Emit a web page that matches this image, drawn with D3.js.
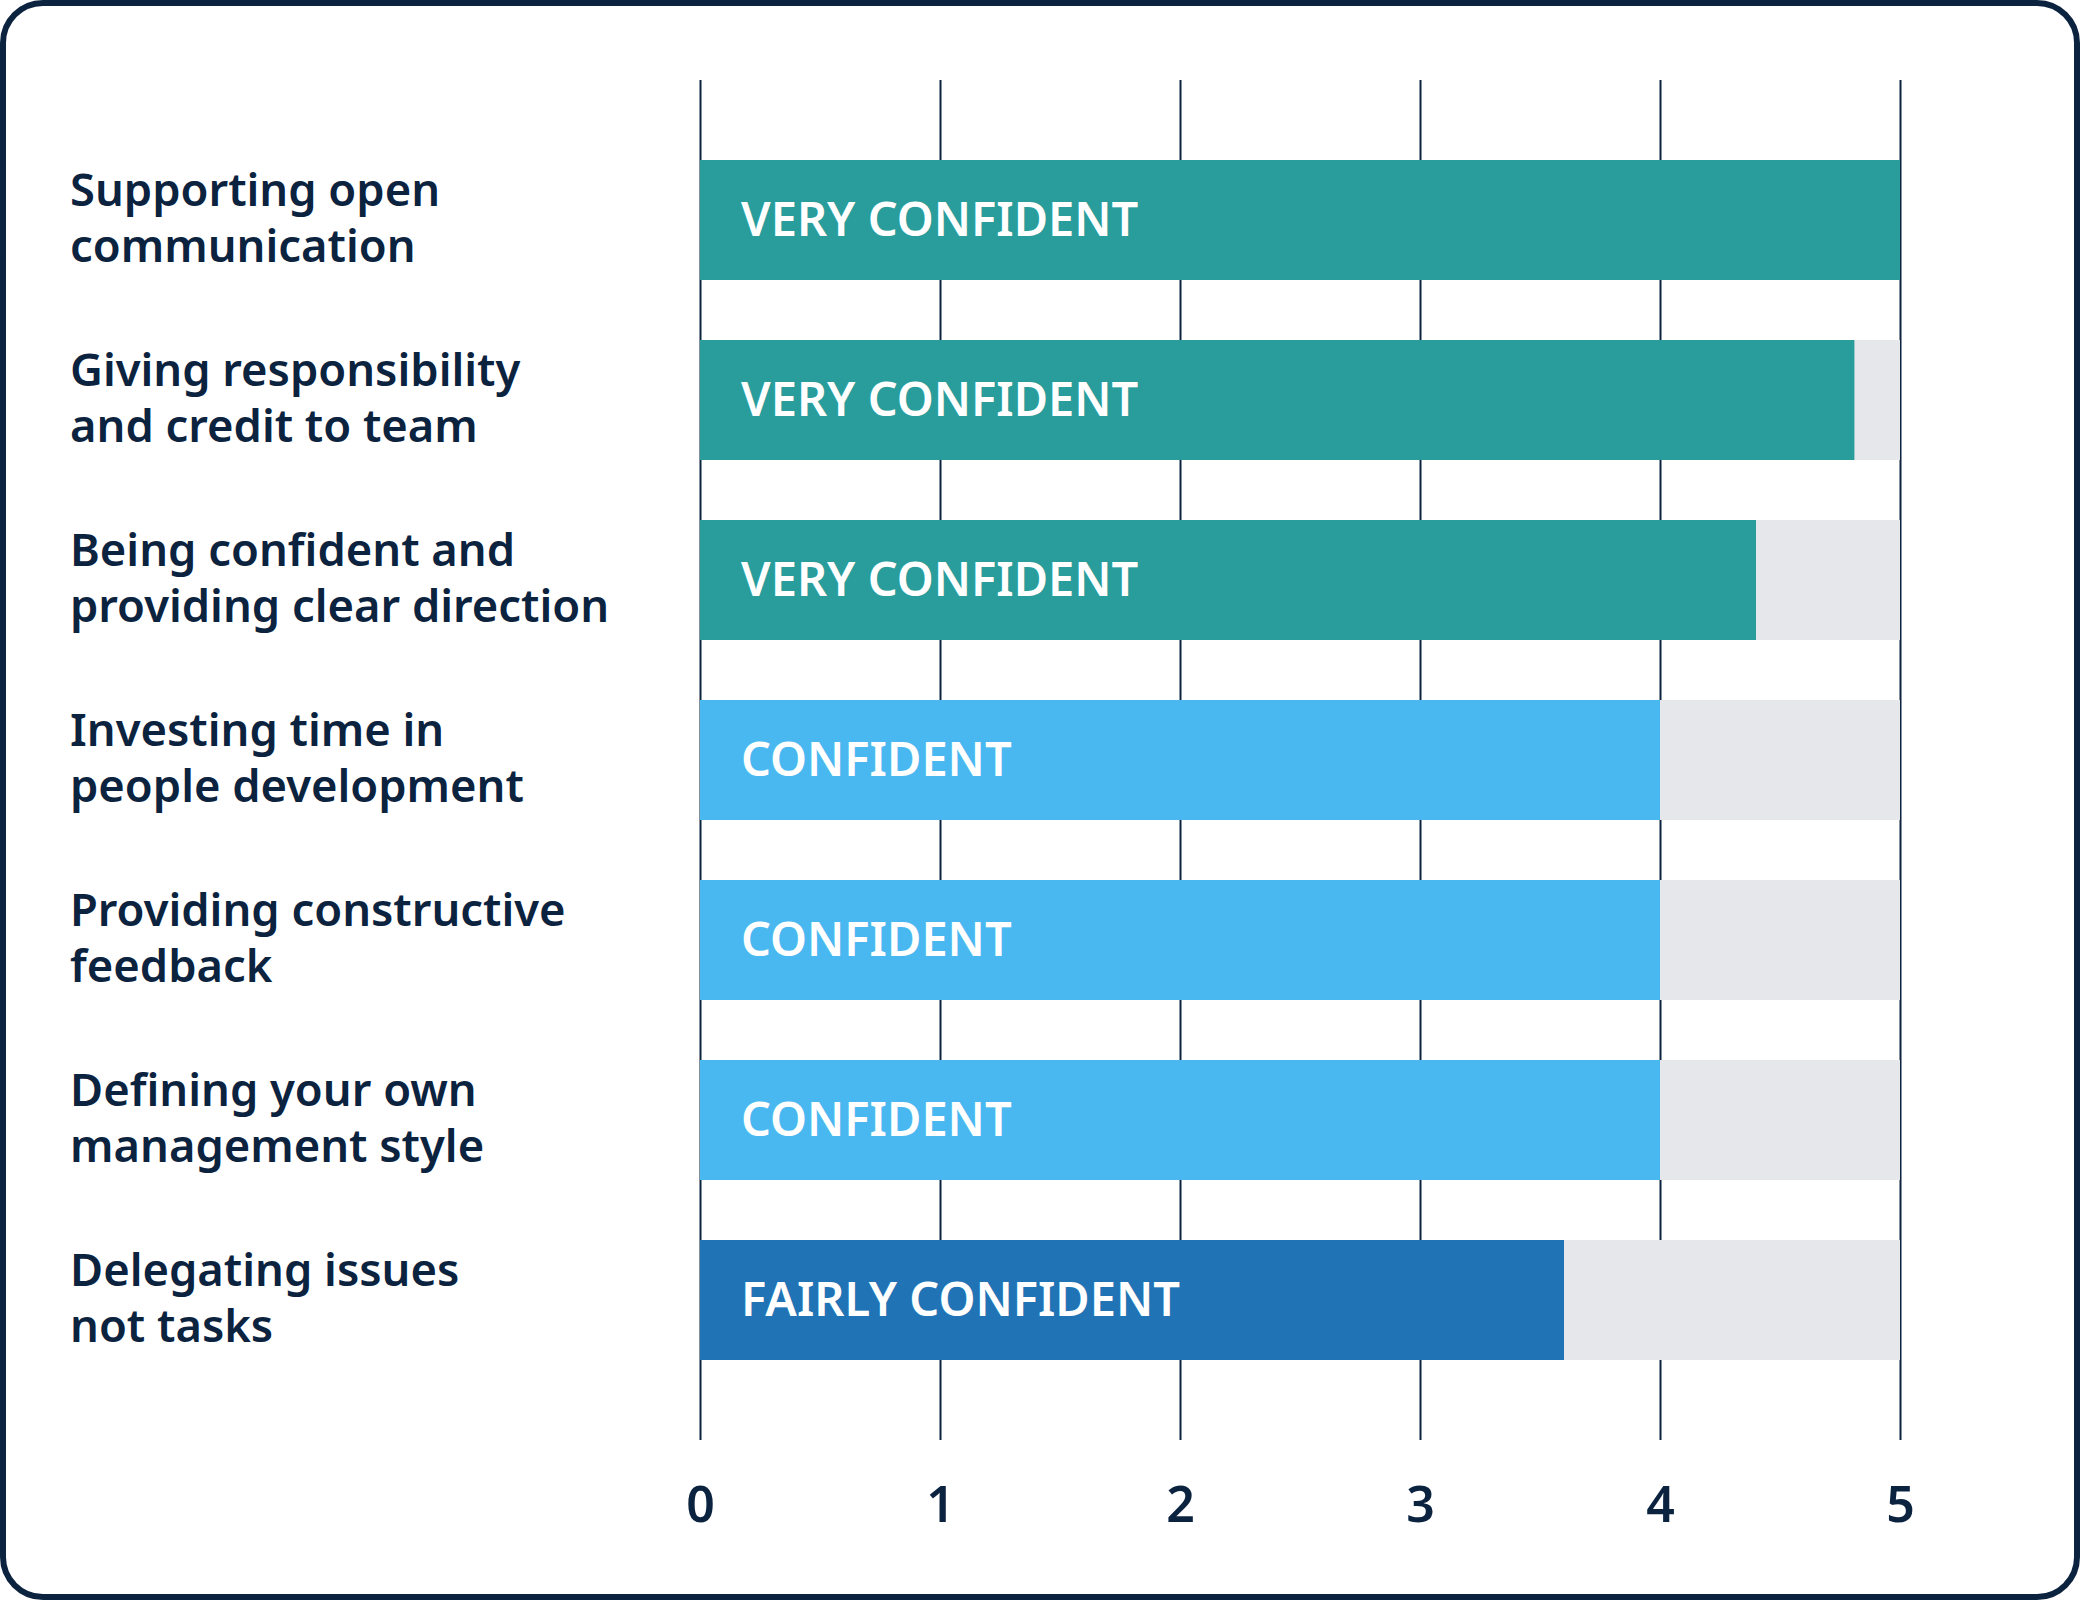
<!DOCTYPE html>
<html>
<head>
<meta charset="utf-8">
<script src="https://cdn.jsdelivr.net/npm/d3@7"></script>
<style>
  html, body { margin: 0; padding: 0; background: #ffffff; }
  svg { display: block; }
</style>
</head>
<body>
<svg id="chart" width="2080" height="1600"></svg>
<script>
// ---- data ----
const categories = [
  "Supporting open communication",
  "Giving responsibility and credit to team",
  "Being confident and providing clear direction",
  "Investing time in people development",
  "Providing constructive feedback",
  "Defining your own management style",
  "Delegating issues not tasks"
];
const categoryLines = [
  ["Supporting open", "communication"],
  ["Giving responsibility", "and credit to team"],
  ["Being confident and", "providing clear direction"],
  ["Investing time in", "people development"],
  ["Providing constructive", "feedback"],
  ["Defining your own", "management style"],
  ["Delegating issues", "not tasks"]
];
const values = [5, 4.81, 4.4, 4, 4, 4, 3.6];
const levels = ["VERY CONFIDENT", "VERY CONFIDENT", "VERY CONFIDENT",
                "CONFIDENT", "CONFIDENT", "CONFIDENT", "FAIRLY CONFIDENT"];
const levelNames = ["VERY CONFIDENT", "CONFIDENT", "FAIRLY CONFIDENT"];
const levelColors = ["#289d9c", "#4ab8f0", "#2074b5"];
const maxValue = 5;
const tickValues = [0, 1, 2, 3, 4, 5];

// ---- layout ----
const navy = "#0c2340";
const svg = d3.select("#chart");
const fontFamily = "'Noto Sans', 'Open Sans', sans-serif";

svg.append("rect")
  .attr("x", 3).attr("y", 3)
  .attr("width", 2074).attr("height", 1594)
  .attr("rx", 40).attr("ry", 40)
  .attr("fill", "#ffffff")
  .attr("stroke", navy)
  .attr("stroke-width", 6);

const x = d3.scaleLinear().domain([0, maxValue]).range([700, 1900]);
const y = d3.scaleBand().domain(categories).range([130, 1390])
  .paddingInner(1 / 3).paddingOuter(1 / 6);
const color = d3.scaleOrdinal().domain(levelNames).range(levelColors);

const gridTop = 80, gridBottom = 1440;

// axis + gridlines
const axis = d3.axisBottom(x)
  .tickValues(tickValues)
  .tickFormat(d3.format("d"))
  .tickSize(-(gridBottom - gridTop))
  .tickPadding(0);

const gAxis = svg.append("g")
  .attr("transform", `translate(0,${gridBottom})`)
  .call(axis);
gAxis.select(".domain").remove();
gAxis.selectAll(".tick line")
  .attr("stroke", navy)
  .attr("stroke-width", 2);
gAxis.selectAll(".tick text")
  .attr("y", 82)
  .attr("dy", 0)
  .attr("fill", navy)
  .style("font-family", fontFamily)
  .style("font-size", "50px")
  .style("font-weight", 600);

// background bars
const rows = categories.map((c, i) => ({ c, v: values[i], level: levels[i], lines: categoryLines[i] }));

svg.append("g").selectAll("rect")
  .data(rows).join("rect")
  .attr("x", x(0))
  .attr("y", d => y(d.c))
  .attr("width", x(maxValue) - x(0))
  .attr("height", y.bandwidth())
  .attr("fill", "#e6e7eb");

svg.append("g").selectAll("rect")
  .data(rows).join("rect")
  .attr("x", x(0))
  .attr("y", d => y(d.c))
  .attr("width", d => x(d.v) - x(0))
  .attr("height", y.bandwidth())
  .attr("fill", d => color(d.level));

// bar labels
svg.append("g").selectAll("text")
  .data(rows).join("text")
  .attr("x", x(0) + 41)
  .attr("y", d => y(d.c) + y.bandwidth() / 2 + 16)
  .attr("fill", "#ffffff")
  .style("font-family", fontFamily)
  .style("font-size", "47px")
  .style("font-weight", 600)
  .text(d => d.level);

// category labels
const lab = svg.append("g").selectAll("text")
  .data(rows).join("text")
  .attr("x", 70)
  .attr("y", d => y(d.c) + y.bandwidth() / 2 - 14)
  .attr("fill", navy)
  .style("font-family", fontFamily)
  .style("font-size", "45.3px")
  .style("font-weight", 600);
lab.selectAll("tspan")
  .data(d => d.lines).join("tspan")
  .attr("x", 70)
  .attr("dy", (d, i) => i === 0 ? 0 : 56)
  .text(d => d);
</script>
</body>
</html>
